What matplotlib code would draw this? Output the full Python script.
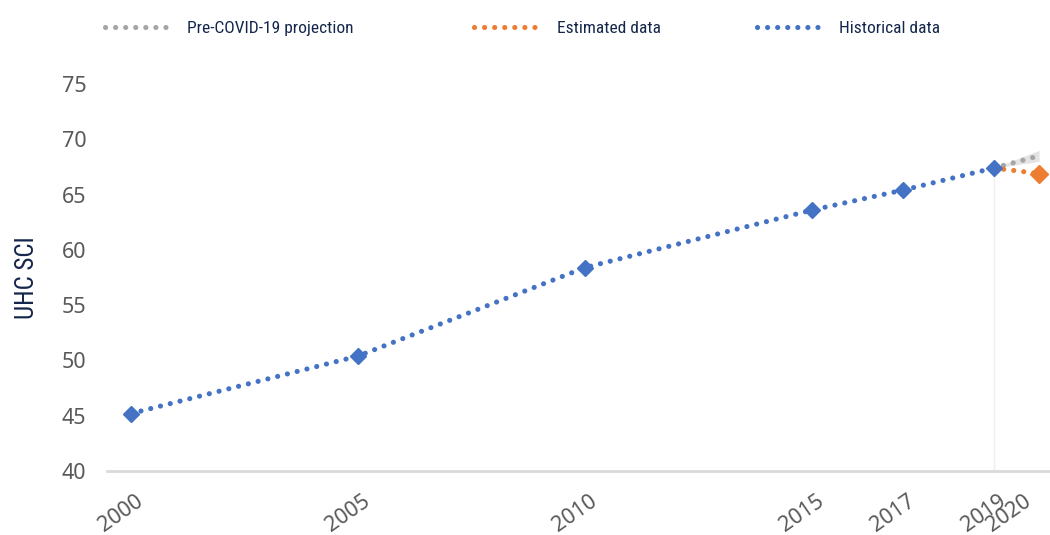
import matplotlib
matplotlib.use('Agg')
import matplotlib.pyplot as plt
import matplotlib.transforms as mtransforms
from matplotlib.lines import Line2D
from matplotlib import font_manager

# data
hist_years = [2000, 2005, 2010, 2015, 2017, 2019]
hist_values = [45.2, 50.4, 58.4, 63.6, 65.4, 67.4]

est_years = [2019, 2020]
est_values = [67.4, 66.9]

proj_years = [2019, 2020]
proj_values = [67.4, 68.5]
proj_low = [67.4, 68.0]
proj_high = [67.4, 69.0]

tick_years = [2000, 2005, 2010, 2015, 2017, 2019, 2020]
y_ticks = [40, 45, 50, 55, 60, 65, 70, 75]

blue = '#4472C4'
orange = '#ED7D31'
grey = '#A5A5A5'
navy = '#14264B'
label_grey = '#595959'
dots = (0, (0.01, 1.95))
lw = 3.7

# pick a narrow font for the navy texts if one is installed
names = set(f.name for f in font_manager.fontManager.ttflist)
narrow = None
for cand in ['Liberation Sans Narrow', 'DejaVu Sans Condensed', 'Roboto Condensed',
             'Open Sans Condensed']:
    if cand in names:
        narrow = cand
        break
if narrow is None:
    narrow_prop = dict(family='DejaVu Sans', stretch='condensed')
else:
    narrow_prop = dict(family=narrow)

tick_font = font_manager.FontProperties(family='Noto Sans', size=15.5)

fig = plt.figure(figsize=(10.5, 5.35), dpi=100)
ax = fig.add_axes([0.102, 0.1196, 0.898, 0.7234])

# faint marker line at 2019
ax.vlines(2019, 40, hist_values[-1], color='#EFEFEF', linewidth=1, zorder=1)

# projection band + line
ax.fill_between(proj_years, proj_low, proj_high, color='#E3E3E3', linewidth=0, zorder=1)
ax.plot(proj_years, proj_values, color=grey, linewidth=lw, linestyle=dots,
        dash_capstyle='round', zorder=2)

# estimated
ax.plot(est_years, est_values, color=orange, linewidth=lw, linestyle=dots,
        dash_capstyle='round', zorder=3)
ax.plot(est_years[-1:], est_values[-1:], color=orange, marker='D', markersize=9.5,
        linestyle='none', zorder=4)

# historical
ax.plot(hist_years, hist_values, color=blue, linewidth=lw, linestyle=dots,
        dash_capstyle='round', zorder=5)
ax.plot(hist_years, hist_values, color=blue, marker='D', markersize=8.5,
        linestyle='none', zorder=6)

ax.set_xlim(1999.47, 2020.24)
ax.set_ylim(40, 75)
ax.set_xticks(tick_years)
ax.set_xticklabels([str(y) for y in tick_years], rotation=35, color=label_grey,
                   fontproperties=tick_font)
ax.set_yticks(y_ticks)
ax.set_yticklabels([str(v) for v in y_ticks], color=label_grey, fontproperties=tick_font)
ax.tick_params(axis='both', length=0)
ax.tick_params(axis='y', pad=15)
ax.tick_params(axis='x', pad=14)

# nudge the rotated year labels left, the last one more so it stays inside
for i, lab in enumerate(ax.get_xticklabels()):
    dx = -10 if i < len(tick_years) - 1 else -30
    lab.set_transform(lab.get_transform() +
                      mtransforms.ScaledTranslation(dx / 100, 0, fig.dpi_scale_trans))

for side in ['top', 'right', 'left']:
    ax.spines[side].set_visible(False)
ax.spines['bottom'].set_color('#D9D9D9')
ax.spines['bottom'].set_linewidth(2)

ax.set_ylabel('UHC SCI', fontsize=18, color=navy, weight='normal', **narrow_prop)
ax.yaxis.set_label_coords(-0.072, 0.5)

# legend, one entry at a time to match spacing
entries = [('Pre-COVID-19 projection', grey, 0.085),
           ('Estimated data', orange, 0.437),
           ('Historical data', blue, 0.706)]
for label, col, xpos in entries:
    h = Line2D([], [], color=col, linewidth=lw, linestyle=dots, dash_capstyle='round')
    leg = fig.legend(handles=[h], labels=[label], loc='center left',
                     bbox_to_anchor=(xpos, 0.947), frameon=False, handlelength=4.0,
                     handletextpad=0.75,
                     prop=dict(size=12.5, weight='normal', **narrow_prop))
    for t in leg.get_texts():
        t.set_color(navy)

fig.savefig('out.png', dpi=100)
